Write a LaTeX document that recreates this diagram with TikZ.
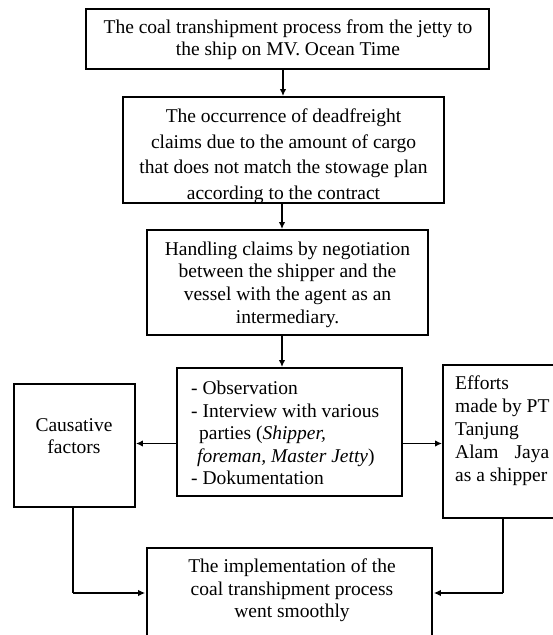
\documentclass[tikz,border=0pt]{standalone}
\usepackage{fontspec}
\setmainfont{Liberation Serif}
\usetikzlibrary{arrows.meta}
\begin{document}
\begin{tikzpicture}[x=1pt,y=-1pt,
  box/.style={draw,line width=1.9pt,inner sep=0pt,anchor=center},
  txt/.style={inner sep=0pt,align=center,font=\fontsize{19.5}{22}\selectfont},
  arr/.style={line width=1.7pt,-{Latex[length=7pt,width=6.5pt]}},
  ln/.style={line width=1.7pt}]
\useasboundingbox (0,0) rectangle (553,635);
\clip (0,0) rectangle (553,635);
\fill[white] (0,0) rectangle (553,635);
% boxes
\node[box,minimum width=403pt,minimum height=60pt] (b1) at (287.5,39) {};
\node[box,minimum width=321pt,minimum height=106pt] (b2) at (283.5,150) {};
\node[box,minimum width=281pt,minimum height=105pt] (b3) at (287.5,282.5) {};
\node[box,minimum width=225pt,minimum height=128pt] (b4) at (289.5,432) {};
\node[box,minimum width=121pt,minimum height=123pt] (lf) at (74.5,445.5) {};
\node[box,minimum width=157pt,minimum height=153pt] (rt) at (521.5,441.5) {};
\node[box,minimum width=285pt,minimum height=112pt] (b5) at (289.5,604) {};
% texts
\node[txt] (t1) at (288,39.5)
  {The coal transhipment process from the jetty to\\the ship on MV. Ocean Time};
\node[txt,font=\fontsize{19.5}{25.5}\selectfont] (t2) at (283.5,156)
  {The occurrence of deadfreight\\claims due to the amount of cargo\\that does not match the stowage plan\\according to the contract};
\node[txt,font=\fontsize{19.5}{22.7}\selectfont] (t3) at (287.5,284.5)
  {Handling claims by negotiation\\between the shipper and the\\vessel with the agent as an\\intermediary.};
\node[txt,align=left,anchor=west,font=\fontsize{19.5}{22.5}\selectfont] (t4) at (191,433)
  {- Observation\\- Interview with various\\\hspace*{8pt}parties (\textit{Shipper,}\\\hspace*{6pt}\textit{foreman, Master Jetty})\\- Dokumentation};
\node[txt] (tl) at (74,436.5) {Causative\\factors};
\node[txt,align=left,anchor=west,font=\fontsize{19.5}{23}\selectfont] (tr) at (455,431)
  {Efforts\\made by PT\\Tanjung\\Alam\hspace{16pt}Jaya\\as a shipper};
\node[txt,font=\fontsize{19.5}{22.5}\selectfont] (t5) at (292,590.5)
  {The implementation of the\\coal transhipment process\\went smoothly};
% connectors
\coordinate (m) at (0,443.5);
\coordinate (h) at (0,593);
\coordinate (c2) at ([xshift=61pt]rt.south west);
\draw[arr] (b1.south -| 283,0) -- (b2.north -| 283,0);
\draw[arr] (b2.south -| 282,0) -- (b3.north -| 282,0);
\draw[arr] (b3.south -| 282,0) -- (b4.north -| 282,0);
\draw[arr] (b4.west |- m) -- (lf.east |- m);
\draw[arr] (b4.east |- m) -- (rt.west |- m);
\draw[ln] (lf.south -| 73,0) -- (73,593) coordinate (c1);
\draw[arr] (c1) -- ([xshift=-0.9pt]b5.west |- h);
\draw[ln] (c2) -- (c2 |- h) coordinate (c3);
\draw[arr] (c3) -- ([xshift=0.9pt]b5.east |- h);
\end{tikzpicture}
\end{document}
